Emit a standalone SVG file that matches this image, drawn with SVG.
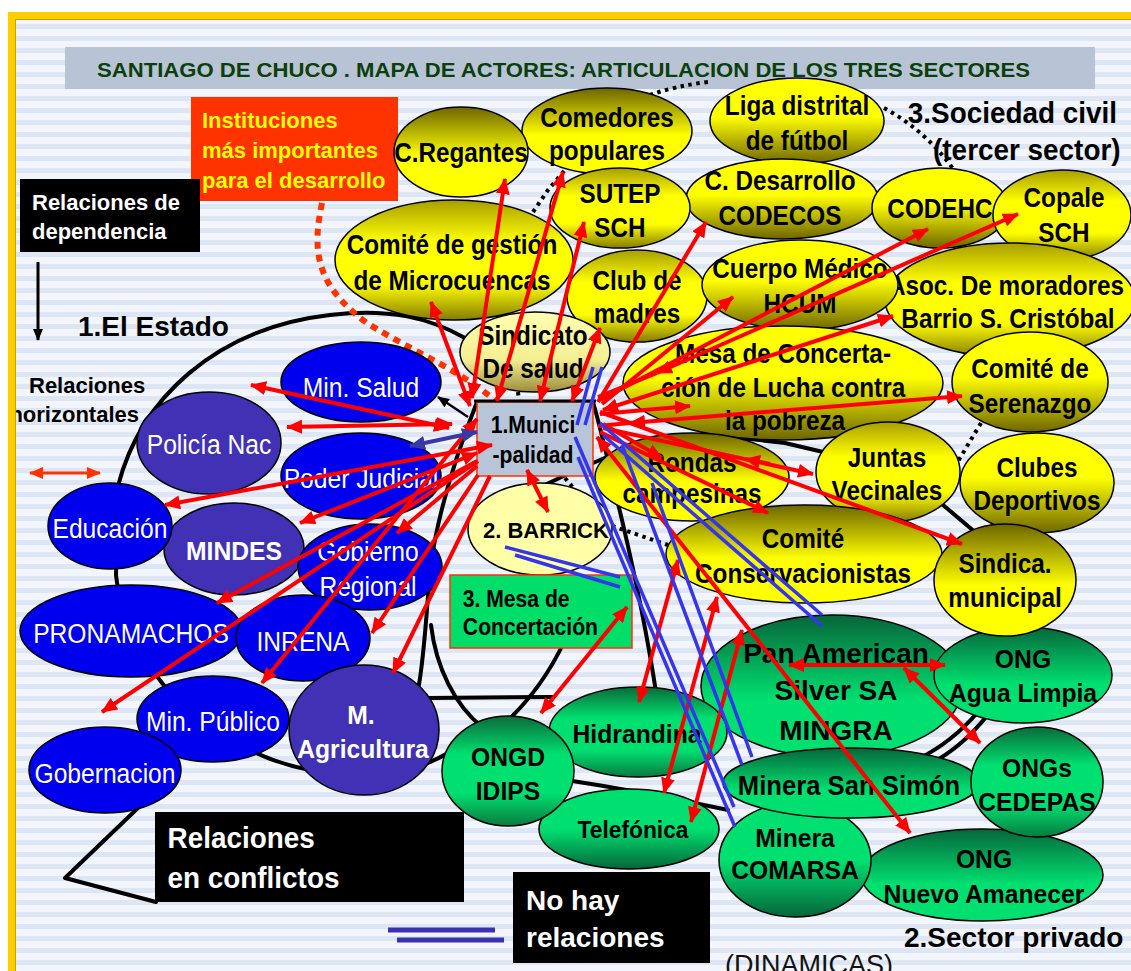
<svg xmlns="http://www.w3.org/2000/svg" width="1131" height="971" viewBox="0 0 1131 971">
<defs>
<style>
text{font-family:"Liberation Sans",Arial,sans-serif}
.o{stroke:#000;stroke-width:1.5}
.sx{transform-box:fill-box;transform-origin:center}
.ty{font-size:27px;font-weight:bold;fill:#000;text-anchor:middle;transform:scaleX(0.9);transform-box:fill-box;transform-origin:center}
.tg{font-size:26px;font-weight:bold;fill:#000;text-anchor:middle;transform:scaleX(0.95);transform-box:fill-box;transform-origin:center}
.ty28{font-size:28px;font-weight:bold;fill:#000;text-anchor:middle}
.tw{font-size:28px;fill:#fff;text-anchor:middle;transform:scaleX(0.88);transform-box:fill-box;transform-origin:center}
.twb{font-size:26px;font-weight:bold;fill:#fff;text-anchor:middle;transform:scaleX(0.95);transform-box:fill-box;transform-origin:center}
.k{stroke:#000;stroke-width:4;fill:none;stroke-linejoin:round;stroke-linecap:round}
.kd{stroke:#000;stroke-width:4;fill:none;stroke-dasharray:3.5 4.5}
.r{stroke:#ff0000;stroke-width:4;fill:none}
.nb{stroke:#3535ee;stroke-width:3.5;fill:none}
.bl{fill:#0000ee}
.pu{fill:#4131b4}
</style>
<pattern id="st" width="12" height="12" patternUnits="userSpaceOnUse">
<rect width="12" height="12" fill="#f2f5fb"/><rect width="12" height="5" fill="#dde6f2"/>
</pattern>
<linearGradient id="ydown" x1="0" y1="0" x2="0" y2="1"><stop offset="0" stop-color="#6e6600"/><stop offset="0.55" stop-color="#ffff00"/><stop offset="1" stop-color="#ffff00"/></linearGradient>
<linearGradient id="yup" x1="0" y1="0" x2="0" y2="1"><stop offset="0" stop-color="#ffff00"/><stop offset="0.45" stop-color="#ffff00"/><stop offset="1" stop-color="#6e6600"/></linearGradient>
<linearGradient id="ymid" x1="0" y1="0" x2="0" y2="1"><stop offset="0" stop-color="#a89f00"/><stop offset="0.35" stop-color="#ffff00"/><stop offset="0.7" stop-color="#ffff00"/><stop offset="1" stop-color="#857c00"/></linearGradient>
<linearGradient id="ypale" x1="0" y1="0" x2="0" y2="1"><stop offset="0" stop-color="#ffffb0"/><stop offset="0.6" stop-color="#f4ee92"/><stop offset="1" stop-color="#9c8c3c"/></linearGradient>
<linearGradient id="gdown" x1="0" y1="0" x2="0" y2="1"><stop offset="0" stop-color="#06663a"/><stop offset="0.6" stop-color="#00e070"/><stop offset="1" stop-color="#00e070"/></linearGradient>
<linearGradient id="gup" x1="0" y1="0" x2="0" y2="1"><stop offset="0" stop-color="#00e070"/><stop offset="0.5" stop-color="#00e070"/><stop offset="1" stop-color="#06663a"/></linearGradient>
<linearGradient id="gmid" x1="0" y1="0" x2="0" y2="1"><stop offset="0" stop-color="#0a6a3a"/><stop offset="0.35" stop-color="#00e070"/><stop offset="0.7" stop-color="#00e070"/><stop offset="1" stop-color="#0a7a40"/></linearGradient>
<marker id="ar" viewBox="0 0 16 14" refX="15" refY="7" markerWidth="16" markerHeight="14" markerUnits="userSpaceOnUse" orient="auto-start-reverse"><path d="M0,0 L16,7 L0,14 z" fill="#ff0000"/></marker>
<marker id="ab" viewBox="0 0 16 14" refX="15" refY="7" markerWidth="16" markerHeight="14" markerUnits="userSpaceOnUse" orient="auto-start-reverse"><path d="M0,0 L16,7 L0,14 z" fill="#3838a8"/></marker>
<marker id="ak" viewBox="0 0 12 10" refX="11" refY="5" markerWidth="12" markerHeight="10" markerUnits="userSpaceOnUse" orient="auto-start-reverse"><path d="M0,0 L12,5 L0,10 z" fill="#000"/></marker>
<marker id="ao" viewBox="0 0 14 12" refX="13" refY="6" markerWidth="14" markerHeight="12" markerUnits="userSpaceOnUse" orient="auto-start-reverse"><path d="M0,0 L14,6 L0,12 z" fill="#ff3300"/></marker>
</defs>

<rect width="1131" height="971" fill="#ffffff"/>
<rect x="15" y="19" width="1116" height="952" fill="url(#st)"/>

<!-- title -->
<rect x="65" y="47" width="1030" height="42" fill="#b8c3d6"/>
<text x="97" y="77" font-size="21" font-weight="bold" fill="#0b3f0b" textLength="933" lengthAdjust="spacingAndGlyphs">SANTIAGO DE CHUCO . MAPA DE ACTORES: ARTICULACION DE LOS TRES SECTORES</text>

<!-- sector boundaries -->
<g id="sectors">
<path class="k" d="M 465,338 C 430,318 390,308 330,315 C 215,328 140,400 118,486 L 116,575 L 118,590"/>
<path class="k" d="M 152,670 L 166,688"/>
<path class="k" d="M 250,750 Q 278,764 310,770"/>
<path class="k" d="M 425,764 Q 436,760 448,753"/>
<path class="k" d="M 560,779 Q 645,792 728,810"/>
<path class="k" d="M 920,758 Q 952,742 978,712"/>
<path class="k" d="M 928,765 Q 960,749 986,717"/>
<path class="k" d="M 530,492 L 570,473 L 607,457 L 650,446 L 700,438 L 750,439 L 785,443 L 823,452 L 870,468 L 910,486 L 943,505 L 975,532"/>
<path class="k" d="M 593,402 C 604,440 612,480 622,520 C 636,580 648,640 656,692"/>
<path class="k" d="M 477,402 C 458,450 438,510 430,570 C 426,620 424,660 418,690"/>
<path class="k" d="M 431,625 C 436,668 455,705 482,727"/>
<path class="k" d="M 506,722 C 530,700 550,672 565,640"/>
<path class="k" d="M 427,698 L 552,697"/>
<path class="k" d="M 140,806 L 65,878 L 156,902"/>
<path class="kd" d="M 533,212 L 548,190 L 565,170"/>
<path class="kd" d="M 650,95 Q 675,86 708,82"/>
<path class="kd" d="M 884,108 Q 925,130 954,170"/>
<path class="kd" d="M 981,423 L 957,463"/>
<path class="kd" d="M 612,526 L 668,545"/>
<path class="kd" d="M 518,392 L 519,402"/>
<path class="kd" d="M 565,478 L 575,490"/>
<path d="M 922,690 L 931,690 L 926,709 z" fill="#000"/>
</g>

<!-- legend / labels -->
<g id="legend">
<rect x="191" y="97" width="207" height="104" fill="#ff3300"/>
<text x="202" y="128" font-size="22" font-weight="bold" fill="#ffff00">Instituciones</text>
<text x="202" y="158" font-size="22" font-weight="bold" fill="#ffff00">más importantes</text>
<text x="202" y="188" font-size="22" font-weight="bold" fill="#ffff00">para el desarrollo</text>
<rect x="20" y="179" width="180" height="73" fill="#000"/>
<text x="32" y="210" font-size="22" font-weight="bold" fill="#fff">Relaciones de</text>
<text x="32" y="239" font-size="22" font-weight="bold" fill="#fff">dependencia</text>
<line x1="38" y1="262" x2="38" y2="340" stroke="#000" stroke-width="3" marker-end="url(#ak)"/>
<text x="78" y="336" font-size="28" font-weight="bold" fill="#000">1.El Estado</text>
<text x="29" y="393" font-size="22" font-weight="bold" fill="#000">Relaciones</text>
<text x="139" y="422" font-size="22" font-weight="bold" fill="#000" text-anchor="end">horizontales</text>
<line x1="30" y1="473" x2="100" y2="473" stroke="#ff3300" stroke-width="3" marker-start="url(#ao)" marker-end="url(#ao)"/>
<text x="900" y="123" font-size="30" font-weight="bold" fill="#000" class="sx" style="transform:scaleX(0.93)">3.Sociedad civil</text>
<text x="926" y="160" font-size="30" font-weight="bold" fill="#000" class="sx" style="transform:scaleX(0.93)">(tercer sector)</text>
<rect x="155" y="812" width="309" height="90" fill="#000"/>
<text x="162" y="848" font-size="30" font-weight="bold" fill="#fff" class="sx" style="transform:scaleX(0.93)">Relaciones</text>
<text x="161" y="888" font-size="30" font-weight="bold" fill="#fff" class="sx" style="transform:scaleX(0.93)">en conflictos</text>
<rect x="513" y="872" width="197" height="91" fill="#000"/>
<text x="526" y="910" font-size="28" font-weight="bold" fill="#fff">No hay</text>
<text x="526" y="947" font-size="28" font-weight="bold" fill="#fff">relaciones</text>
<line x1="388" y1="930" x2="495" y2="930" stroke="#3a30b0" stroke-width="5"/>
<line x1="397" y1="940" x2="504" y2="940" stroke="#3a30b0" stroke-width="5"/>
<text x="904" y="947" font-size="28" font-weight="bold" fill="#000">2.Sector privado</text>
<text x="725" y="974" font-size="27" fill="#111">(DINAMICAS)</text>
<path d="M 322,203 C 312,250 315,285 367,323 C 410,350 460,370 497,402" stroke="#ff3300" stroke-width="6" fill="none" stroke-dasharray="7 6"/>
</g>

<!-- state nodes -->
<g id="n-policia"><ellipse cx="209" cy="443" rx="72" ry="51" class="o pu"/><text x="209" y="454" class="tw">Policía Nac</text></g>
<g id="n-minsalud"><ellipse cx="361" cy="382" rx="80" ry="40" class="o bl"/><text x="361" y="397" class="tw">Min. Salud</text></g>
<g id="n-poderjudicial"><ellipse cx="361" cy="476" rx="80" ry="43" class="o bl"/><text x="361" y="488" class="tw">Poder Judicial</text></g>
<g id="n-mindes"><ellipse cx="234" cy="549" rx="70" ry="46" class="o pu"/><text x="234" y="560" class="twb">MINDES</text></g>
<g id="n-educacion"><ellipse cx="110" cy="526" rx="62" ry="43" class="o bl"/><text x="110" y="538" class="tw">Educación</text></g>
<g id="n-gobregional"><ellipse cx="370" cy="567" rx="72" ry="43" class="o bl"/><text x="368" y="561" class="tw">Gobierno</text><text x="368" y="596" class="tw">Regional</text></g>
<g id="n-pronamachos"><ellipse cx="131" cy="631" rx="111" ry="46" class="o bl"/><text x="131" y="643" class="tw">PRONAMACHOS</text></g>
<g id="n-inrena"><ellipse cx="303" cy="638" rx="67" ry="43" class="o bl"/><text x="303" y="651" class="tw">INRENA</text></g>
<g id="n-minpublico"><ellipse cx="213" cy="719" rx="76" ry="43" class="o bl"/><text x="213" y="731" class="tw">Min. Público</text></g>
<g id="n-gobernacion"><ellipse cx="105" cy="770" rx="76" ry="43" class="o bl"/><text x="105" y="783" class="tw">Gobernacion</text></g>
<g id="n-magricultura"><ellipse cx="364" cy="730" rx="75" ry="65" class="o pu"/><text x="361" y="724" class="twb">M.</text><text x="363" y="758" class="twb">Agricultura</text></g>

<!-- private sector nodes -->
<g id="n-panamerican"><ellipse cx="832" cy="686" rx="131" ry="71" class="o" fill="url(#gdown)"/><text x="836" y="663" class="ty28">Pan American</text><text x="836" y="700" class="ty28">Silver SA</text><text x="836" y="740" class="ty28">MINGRA</text></g>
<g id="n-agualimpia"><ellipse cx="1023" cy="675" rx="89" ry="48" class="o" fill="url(#gdown)"/><text x="1023" y="668" class="tg">ONG</text><text x="1023" y="702" class="tg">Agua Limpia</text></g>
<g id="n-nuevoamanecer"><ellipse cx="982" cy="875" rx="121" ry="46" class="o" fill="url(#gdown)"/><text x="984" y="868" class="tg">ONG</text><text x="984" y="903" class="tg">Nuevo Amanecer</text></g>
<g id="n-comarsa"><ellipse cx="795" cy="860" rx="76" ry="57" class="o" fill="url(#gup)"/><text x="795" y="847" class="tg">Minera</text><text x="795" y="879" class="tg">COMARSA</text></g>
<g id="n-sansimon"><ellipse cx="851" cy="783" rx="128" ry="35" class="o" fill="url(#gdown)"/><text x="849" y="795" class="tg" style="font-size:27px">Minera San Simón</text></g>
<g id="n-cedepas"><ellipse cx="1037" cy="782" rx="66" ry="55" class="o" fill="url(#gmid)"/><text x="1037" y="777" class="tg">ONGs</text><text x="1037" y="811" class="tg">CEDEPAS</text></g>
<g id="n-hidrandina"><ellipse cx="638" cy="732" rx="89" ry="45" class="o" fill="url(#gmid)"/><text x="637" y="743" class="tg">Hidrandina</text></g>
<g id="n-telefonica"><ellipse cx="629" cy="829" rx="90" ry="40" class="o" fill="url(#gup)"/><text x="633" y="838" class="tg" style="font-size:24px">Telefónica</text></g>
<g id="n-idips"><ellipse cx="508" cy="771" rx="66" ry="55" class="o" fill="url(#gmid)"/><text x="508" y="766" class="tg">ONGD</text><text x="508" y="800" class="tg">IDIPS</text></g>

<!-- civil society nodes -->
<g id="n-liga"><ellipse cx="797" cy="121" rx="87" ry="43" class="o" fill="url(#yup)"/><text x="797" y="115" class="ty">Liga distrital</text><text x="797" y="150" class="ty">de fútbol</text></g>
<g id="n-comedores"><ellipse cx="607" cy="131" rx="85" ry="43" class="o" fill="url(#ydown)"/><text x="607" y="127" class="ty">Comedores</text><text x="607" y="160" class="ty">populares</text></g>
<g id="n-regantes"><ellipse cx="461" cy="152" rx="67" ry="45" class="o" fill="url(#ydown)"/><text x="461" y="162" class="ty">C.Regantes</text></g>
<g id="n-codecos"><ellipse cx="782" cy="199" rx="96" ry="40" class="o" fill="url(#yup)"/><text x="780" y="190" class="ty">C. Desarrollo</text><text x="780" y="225" class="ty">CODECOS</text></g>
<g id="n-sutep"><ellipse cx="620" cy="208" rx="70" ry="40" class="o" fill="url(#ymid)"/><text x="620" y="203" class="ty">SUTEP</text><text x="620" y="237" class="ty">SCH</text></g>
<g id="n-microcuencas"><ellipse cx="454" cy="260" rx="119" ry="60" class="o" fill="url(#ymid)"/><text x="452" y="254" class="ty">Comité de gestión</text><text x="452" y="290" class="ty">de Microcuencas</text></g>
<g id="n-madres"><ellipse cx="637" cy="296" rx="70" ry="46" class="o" fill="url(#ymid)"/><text x="637" y="290" class="ty">Club de</text><text x="637" y="323" class="ty">madres</text></g>
<g id="n-sindsalud"><ellipse cx="535" cy="352" rx="75" ry="40" class="o" fill="url(#ypale)"/><text x="533" y="345" class="ty">Sindicato</text><text x="533" y="378" class="ty">De salud</text></g>
<g id="n-codehc"><ellipse cx="940" cy="208" rx="68" ry="40" class="o" fill="url(#yup)"/><text x="940" y="218" class="ty">CODEHC</text></g>
<g id="n-copale"><ellipse cx="1062" cy="215" rx="69" ry="45" class="o" fill="url(#ymid)"/><text x="1064" y="207" class="ty">Copale</text><text x="1064" y="242" class="ty">SCH</text></g>
<g id="n-asoc"><ellipse cx="1010" cy="300" rx="125" ry="57" class="o" fill="url(#ymid)"/><text x="1006" y="295" class="ty">Asoc. De moradores</text><text x="1008" y="328" class="ty">Barrio S. Cristóbal</text></g>
<g id="n-cuerpo"><ellipse cx="800" cy="285" rx="98" ry="45" class="o" fill="url(#yup)"/><text x="800" y="278" class="ty">Cuerpo Médico</text><text x="800" y="313" class="ty">HCUM</text></g>
<g id="n-mesalucha"><ellipse cx="783" cy="383" rx="160" ry="57" class="o" fill="url(#yup)"/><text x="783" y="363" class="ty">Mesa de Concerta-</text><text x="783" y="397" class="ty">ción de Lucha contra</text><text x="785" y="430" class="ty">la pobreza</text></g>
<g id="n-serenazgo"><ellipse cx="1030" cy="382" rx="78" ry="50" class="o" fill="url(#yup)"/><text x="1030" y="378" class="ty">Comité de</text><text x="1030" y="413" class="ty">Serenazgo</text></g>
<g id="n-clubes"><ellipse cx="1037" cy="483" rx="77" ry="50" class="o" fill="url(#yup)"/><text x="1037" y="477" class="ty">Clubes</text><text x="1037" y="510" class="ty">Deportivos</text></g>
<g id="n-rondas"><ellipse cx="692" cy="477" rx="97" ry="44" class="o" fill="url(#ydown)"/><text x="692" y="472" class="ty">Rondas</text><text x="692" y="503" class="ty">campesinas</text></g>
<g id="n-juntas"><ellipse cx="888" cy="472" rx="72" ry="50" class="o" fill="url(#ymid)"/><text x="887" y="467" class="ty">Juntas</text><text x="887" y="500" class="ty">Vecinales</text></g>
<g id="n-conserv"><ellipse cx="804" cy="554" rx="138" ry="49" class="o" fill="url(#ydown)"/><text x="803" y="548" class="ty">Comité</text><text x="803" y="583" class="ty">Conservacionistas</text></g>
<g id="n-sindmun"><ellipse cx="1005" cy="580" rx="71" ry="56" class="o" fill="url(#ydown)"/><text x="1005" y="573" class="ty">Sindica.</text><text x="1005" y="607" class="ty">municipal</text></g>

<!-- central actors -->
<g id="n-barrick"><ellipse cx="540" cy="529" rx="72" ry="46" class="o" fill="#ffffa8"/><text x="483" y="538" font-size="22" font-weight="bold" fill="#000">2. BARRICK</text></g>
<g id="n-mesaconc"><rect x="450" y="575" width="182" height="73" fill="#00de6a" stroke="#ff3300" stroke-width="1.5"/><text x="458" y="607" font-size="23" font-weight="bold" fill="#000" class="sx" style="transform:scaleX(0.92)">3. Mesa de</text><text x="457" y="635" font-size="23" font-weight="bold" fill="#000" class="sx" style="transform:scaleX(0.92)">Concertación</text></g>
<g id="n-muni"><rect x="477" y="402" width="116" height="74" fill="#b8c4d8" stroke="#ff3300" stroke-width="1.5"/><line x1="474" y1="401" x2="596" y2="401" stroke="#000" stroke-width="3"/><text x="533" y="433" font-size="23" font-weight="bold" fill="#000" text-anchor="middle" class="sx" style="transform:scaleX(0.92)">1.Munici</text><text x="533" y="463" font-size="23" font-weight="bold" fill="#000" text-anchor="middle" class="sx" style="transform:scaleX(0.92)">-palidad</text></g>

<!-- connectors -->
<g id="connectors">
<line class="r" x1="472" y1="398" x2="505" y2="179" marker-start="url(#ar)" marker-end="url(#ar)"/>
<line class="r" x1="470" y1="406" x2="431" y2="302" marker-start="url(#ar)" marker-end="url(#ar)"/>
<line class="r" x1="497" y1="401" x2="563" y2="172" marker-start="url(#ar)" marker-end="url(#ar)"/>
<line class="r" x1="540" y1="401" x2="584" y2="222" marker-start="url(#ar)" marker-end="url(#ar)"/>
<line class="r" x1="572" y1="401" x2="600" y2="328" marker-start="url(#ar)" marker-end="url(#ar)"/>
<line class="r" x1="598" y1="402" x2="706" y2="222" marker-end="url(#ar)"/>
<line class="r" x1="602" y1="404" x2="733" y2="297" marker-end="url(#ar)"/>
<line class="r" x1="600" y1="400" x2="928" y2="229" marker-end="url(#ar)"/>
<line class="r" x1="598" y1="397" x2="657" y2="373"/>
<line class="r" x1="657" y1="373" x2="1018" y2="214" marker-start="url(#ar)" marker-end="url(#ar)"/>
<line class="r" x1="603" y1="410" x2="893" y2="316" marker-start="url(#ar)" marker-end="url(#ar)"/>
<line class="r" x1="600" y1="414" x2="690" y2="406" marker-end="url(#ar)"/>
<line class="r" x1="598" y1="426" x2="630" y2="423"/>
<line class="r" x1="630" y1="423" x2="962" y2="396" marker-start="url(#ar)" marker-end="url(#ar)"/>
<line class="r" x1="603" y1="424" x2="662" y2="458" marker-end="url(#ar)"/>
<line class="r" x1="603" y1="428" x2="813" y2="474" marker-end="url(#ar)"/>
<line class="r" x1="770" y1="464" x2="745" y2="459" marker-end="url(#ar)"/>
<line class="r" x1="600" y1="432" x2="768" y2="513" marker-end="url(#ar)"/>
<line class="r" x1="600" y1="412" x2="962" y2="544" marker-end="url(#ar)"/>
<line class="r" x1="597" y1="437" x2="910" y2="833" marker-start="url(#ar)" marker-end="url(#ar)"/>
<line class="r" x1="527" y1="470" x2="548" y2="512" marker-start="url(#ar)" marker-end="url(#ar)"/>
<line class="r" x1="627" y1="607" x2="541" y2="713" marker-start="url(#ar)" marker-end="url(#ar)"/>
<line class="r" x1="678" y1="560" x2="639" y2="702" marker-start="url(#ar)" marker-end="url(#ar)"/>
<line class="r" x1="717" y1="597" x2="664" y2="793" marker-start="url(#ar)" marker-end="url(#ar)"/>
<line class="r" x1="742" y1="630" x2="691" y2="822" marker-start="url(#ar)" marker-end="url(#ar)"/>
<line class="r" x1="789" y1="665" x2="945" y2="665" marker-start="url(#ar)" marker-end="url(#ar)"/>
<line class="r" x1="904" y1="668" x2="980" y2="743" marker-start="url(#ar)" marker-end="url(#ar)"/>
<line class="r" x1="449" y1="428" x2="251" y2="385" marker-start="url(#ar)" marker-end="url(#ar)"/>
<line class="r" x1="452" y1="424" x2="287" y2="427" marker-start="url(#ar)" marker-end="url(#ar)"/>
<line class="r" x1="492" y1="445" x2="165" y2="505" marker-start="url(#ar)" marker-end="url(#ar)"/>
<line class="r" x1="477" y1="453" x2="300" y2="523" marker-start="url(#ar)" marker-end="url(#ar)"/>
<line class="r" x1="477" y1="466" x2="397" y2="533" marker-end="url(#ar)"/>
<line class="r" x1="477" y1="461" x2="217" y2="603" marker-end="url(#ar)"/>
<line class="r" x1="478" y1="461" x2="102" y2="712" marker-end="url(#ar)"/>
<line class="r" x1="477" y1="419" x2="262" y2="683" marker-start="url(#ar)" marker-end="url(#ar)"/>
<line class="r" x1="478" y1="475" x2="372" y2="633" marker-end="url(#ar)"/>
<line class="r" x1="490" y1="476" x2="393" y2="673" marker-end="url(#ar)"/>
<line x1="410" y1="446" x2="477" y2="432" stroke="#3838a8" stroke-width="4" marker-start="url(#ab)" marker-end="url(#ab)"/>
<line x1="468" y1="417" x2="438" y2="397" stroke="#000" stroke-width="2.5" marker-end="url(#ak)"/>
<line class="nb" x1="577" y1="425" x2="593" y2="367"/>
<line class="nb" x1="585" y1="425" x2="602" y2="367"/>
<line class="nb" x1="575" y1="437" x2="734" y2="807"/>
<line class="nb" x1="578" y1="457" x2="735" y2="827"/>
<line class="nb" x1="600" y1="423" x2="822" y2="615"/>
<line class="nb" x1="603" y1="435" x2="822" y2="626"/>
<line class="nb" x1="622" y1="445" x2="742" y2="765"/>
<line class="nb" x1="652" y1="483" x2="752" y2="757"/>
<line class="nb" x1="505" y1="547" x2="620" y2="577"/>
<line class="nb" x1="515" y1="555" x2="620" y2="587"/>
</g>

<!-- frame -->
<rect x="8" y="12" width="1123" height="7" fill="#ffcc00"/>
<rect x="8" y="12" width="7" height="959" fill="#ffcc00"/>
<line x1="15" y1="19.5" x2="1131" y2="19.5" stroke="#c9a200" stroke-width="1"/>
<line x1="15.5" y1="19" x2="15.5" y2="971" stroke="#c9a200" stroke-width="1"/>
</svg>
